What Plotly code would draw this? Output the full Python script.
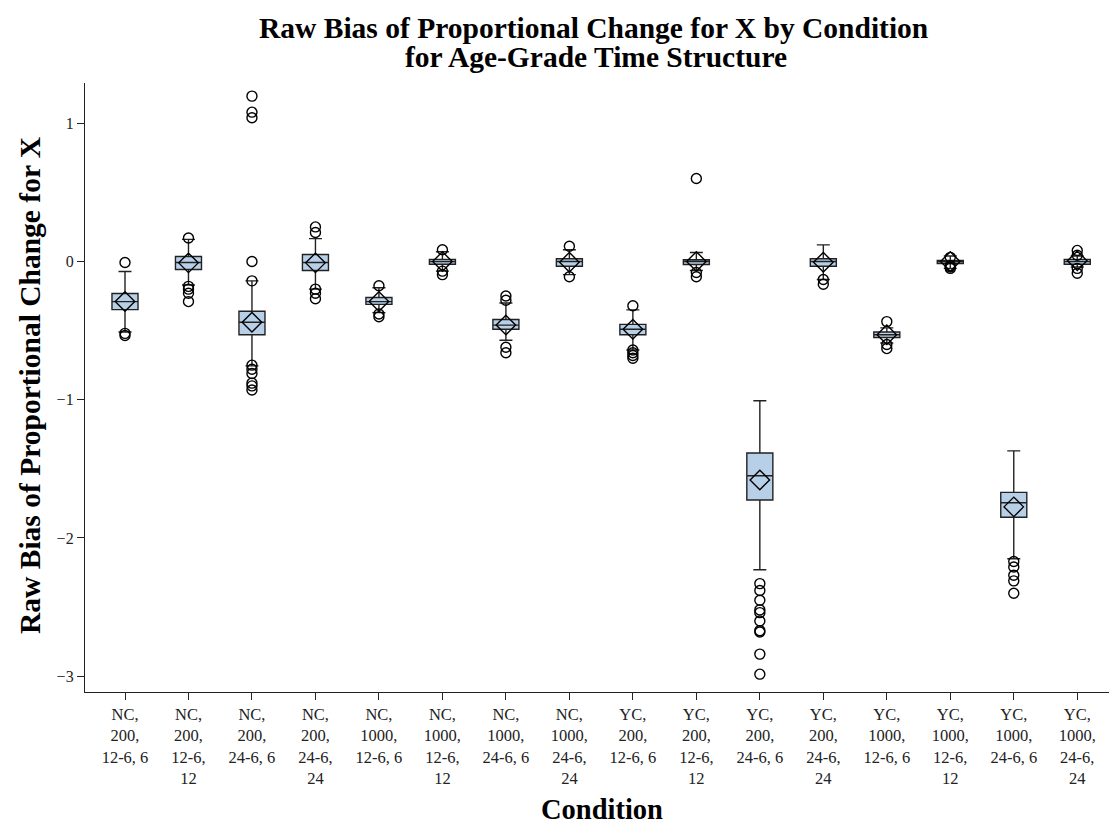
import plotly.graph_objects as go

# Condition labels (wrapped as on the axis)
tick_labels = [
    "NC,<br>200,<br>12-6, 6", "NC,<br>200,<br>12-6,<br>12",
    "NC,<br>200,<br>24-6, 6", "NC,<br>200,<br>24-6,<br>24",
    "NC,<br>1000,<br>12-6, 6", "NC,<br>1000,<br>12-6,<br>12",
    "NC,<br>1000,<br>24-6, 6", "NC,<br>1000,<br>24-6,<br>24",
    "YC,<br>200,<br>12-6, 6", "YC,<br>200,<br>12-6,<br>12",
    "YC,<br>200,<br>24-6, 6", "YC,<br>200,<br>24-6,<br>24",
    "YC,<br>1000,<br>12-6, 6", "YC,<br>1000,<br>12-6,<br>12",
    "YC,<br>1000,<br>24-6, 6", "YC,<br>1000,<br>24-6,<br>24",
]
positions = list(range(len(tick_labels)))
y_ticks = [-3, -2, -1, 0, 1]

# Box statistics per condition
q1 = [-0.348, -0.058, -0.53, -0.065, -0.31, -0.02, -0.49, -0.035,
      -0.53, -0.022, -1.725, -0.035, -0.55, -0.015, -1.85, -0.02]
median = [-0.29, -0.007, -0.44, -0.007, -0.29, 0.0, -0.46, 0.0,
          -0.49, 0.0, -1.55, 0.0, -0.53, 0.0, -1.745, 0.0]
q3 = [-0.232, 0.036, -0.36, 0.05, -0.26, 0.015, -0.42, 0.02,
      -0.455, 0.013, -1.385, 0.02, -0.51, 0.007, -1.67, 0.015]
lower_whisker = [-0.51, -0.17, -0.755, -0.2, -0.37, -0.07, -0.57, -0.095,
                 -0.64, -0.065, -2.23, -0.13, -0.59, -0.05, -2.15, -0.04]
upper_whisker = [-0.072, 0.16, -0.14, 0.165, -0.19, 0.07, -0.3, 0.085,
                 -0.35, 0.065, -1.007, 0.12, -0.48, 0.04, -1.37, 0.04]
means = [-0.29, -0.01, -0.44, -0.01, -0.29, 0.0, -0.46, -0.005,
         -0.49, 0.0, -1.58, -0.005, -0.53, 0.0, -1.775, 0.005]

# Outlying observations per condition
outliers = [
    [-0.007, -0.52, -0.535],
    [0.17, -0.18, -0.2, -0.23, -0.29],
    [1.196, 1.08, 1.04, 0.0, -0.14, -0.75, -0.78, -0.81, -0.88, -0.9, -0.93],
    [0.25, 0.21, -0.2, -0.23, -0.27],
    [-0.175, -0.38, -0.4],
    [0.085, -0.07, -0.095],
    [-0.25, -0.28, -0.62, -0.66],
    [0.11, -0.11],
    [-0.32, -0.64, -0.66, -0.68, -0.7],
    [0.6, -0.08, -0.11],
    [-2.33, -2.38, -2.45, -2.52, -2.54, -2.6, -2.67, -2.68, -2.84, -2.985],
    [-0.13, -0.165],
    [-0.435, -0.6, -0.63],
    [0.03, -0.03, -0.04, -0.05],
    [-2.17, -2.21, -2.27, -2.31, -2.4],
    [0.08, 0.045, -0.05, -0.085],
]

fill_color = "#B8CFE8"
line_color = "#222222"
serif = "Liberation Serif, Times New Roman, serif"

# plot-area geometry in pixels
W, H = 1109, 824
L, R, T, B = 85, 0, 83, 132
PW, PH = W - L - R, H - T - B


def px_x(px):
    return (px - L) / PW


def px_y(py):
    return 1 - (py - T) / PH


fig = go.Figure()

fig.add_trace(go.Box(
    x=positions, q1=q1, median=median, q3=q3,
    lowerfence=lower_whisker, upperfence=upper_whisker,
    boxpoints=False, width=0.41, whiskerwidth=0.5,
    fillcolor=fill_color, line=dict(color=line_color, width=1.4),
    showlegend=False, hoverinfo="skip",
))

out_x, out_y = [], []
for pos, vals in zip(positions, outliers):
    out_x += [pos] * len(vals)
    out_y += vals

fig.add_trace(go.Scatter(
    x=out_x, y=out_y, mode="markers",
    marker=dict(symbol="circle-open", size=10, color="black",
                line=dict(width=1.4, color="black")),
    showlegend=False, hoverinfo="skip",
))

fig.add_trace(go.Scatter(
    x=positions, y=means, mode="markers",
    marker=dict(symbol="diamond-open", size=15, color="black",
                line=dict(width=1.4, color="black")),
    showlegend=False, hoverinfo="skip",
))

title_font = dict(family=serif, size=29.5, color="black")
xlab_font = dict(family=serif, size=28.5, color="black")

fig.update_layout(
    width=W, height=H,
    margin=dict(l=L, r=R, t=T, b=B),
    paper_bgcolor="white", plot_bgcolor="white",
    font=dict(family=serif, color="black"),
    xaxis=dict(
        range=[-0.63, 15.5], tickmode="array", tickvals=positions,
        ticktext=tick_labels, showgrid=False, zeroline=False,
        showline=True, linecolor=line_color, linewidth=1.3,
        ticks="outside", ticklen=7, tickwidth=1.3, tickcolor=line_color,
        tickfont=dict(family=serif, size=16.5, color=line_color),
        tickangle=0,
    ),
    yaxis=dict(
        range=[-3.114, 1.291], tickmode="array", tickvals=y_ticks,
        showgrid=False, zeroline=False,
        showline=True, linecolor=line_color, linewidth=1.3,
        ticks="outside", ticklen=7, tickwidth=1.3, tickcolor=line_color,
        tickfont=dict(family=serif, size=16, color=line_color),
    ),
    annotations=[
        dict(text="<b>Raw Bias of Proportional Change for X by Condition</b>",
             xref="paper", yref="paper", x=px_x(593), y=px_y(28),
             xanchor="center", yanchor="middle", showarrow=False,
             font=title_font),
        dict(text="<b>for Age-Grade Time Structure</b>",
             xref="paper", yref="paper", x=px_x(596), y=px_y(57),
             xanchor="center", yanchor="middle", showarrow=False,
             font=title_font),
        dict(text="<b>Raw Bias of Proportional Change for X</b>",
             xref="paper", yref="paper", x=px_x(30), y=px_y(386),
             xanchor="center", yanchor="middle", textangle=-90,
             showarrow=False, font=title_font),
        dict(text="<b>Condition</b>",
             xref="paper", yref="paper", x=px_x(602), y=px_y(809),
             xanchor="center", yanchor="middle",
             showarrow=False, font=xlab_font),
    ],
)

fig.write_html("out.html")
